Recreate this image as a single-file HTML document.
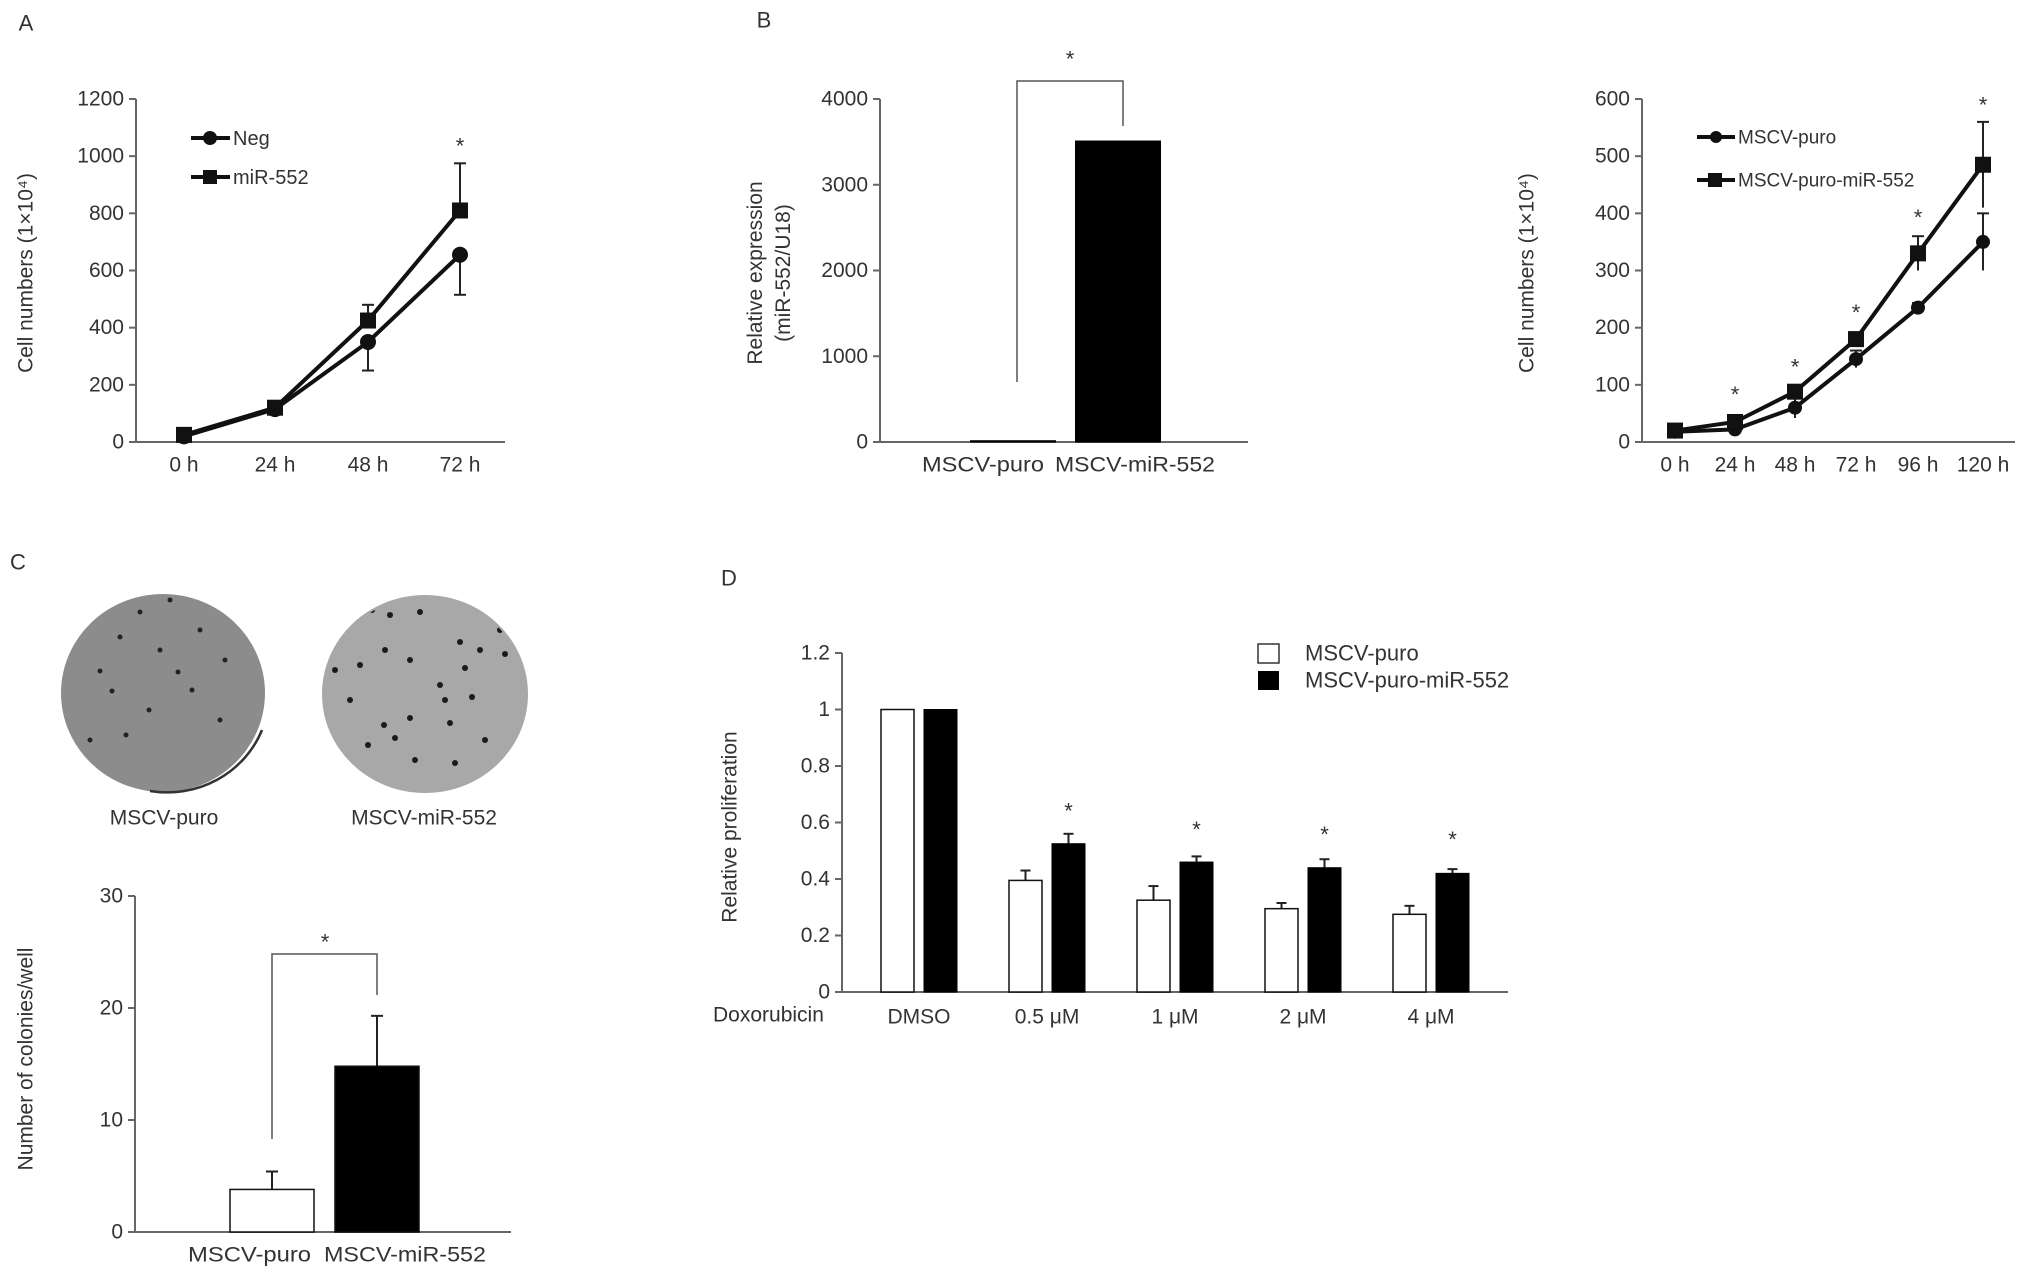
<!DOCTYPE html>
<html><head><meta charset="utf-8"><style>
html,body{margin:0;padding:0;background:#fff;}
svg{display:block;font-family:"Liberation Sans",sans-serif;}
text{fill:#333;}
</style></head><body>
<svg id="fig" width="2031" height="1281" viewBox="0 0 2031 1281" xmlns="http://www.w3.org/2000/svg">
<defs>
<clipPath id="clip1"><ellipse cx="163" cy="693" rx="100" ry="97"/></clipPath>
<clipPath id="clip2"><ellipse cx="425" cy="694" rx="101" ry="97"/></clipPath>
</defs>
<g id="root"></g>
</svg>
<script>
// ---------- Panel A data ----------
const aCats = ["0 h","24 h","48 h","72 h"];
const aNeg = [20,115,350,655];
const aNegErr = [0,0,100,140];
const aMir = [25,120,425,810];
const aMirErr = [0,0,55,165];
const aTicks = [0,200,400,600,800,1000,1200];
const aStars = [null,null,null,1056];
// ---------- Panel B data ----------
const bCats = ["MSCV-puro","MSCV-miR-552"];
const bVals = [15,3510];
const bTicks = [0,1000,2000,3000,4000];
// ---------- Panel right data ----------
const rCats = ["0 h","24 h","48 h","72 h","96 h","120 h"];
const rPuro = [18,22,60,145,235,350];
const rPuroErr = [0,0,18,15,8,50];
const rMir = [20,35,88,180,330,485];
const rMirErr = [0,0,0,0,30,75];
const rTicks = [0,100,200,300,400,500,600];
const rStars = [null,94,142,237,403,600];
// ---------- Panel C data ----------
const cCats = ["MSCV-puro","MSCV-miR-552"];
const cVals = [3.8,14.8];
const cErr = [1.6,4.5];
const cTicks = [0,10,20,30];
// ---------- Panel D data ----------
const dCats = ["DMSO","0.5 μM","1 μM","2 μM","4 μM"];
const dPuro = [1,0.395,0.325,0.295,0.275];
const dPuroErr = [0,0.035,0.05,0.02,0.03];
const dMir = [1,0.525,0.46,0.44,0.42];
const dMirErr = [0,0.035,0.02,0.03,0.015];
const dTicks = ["0","0.2","0.4","0.6","0.8","1","1.2"];
const dStars = [null,0.662,0.597,0.579,0.561];

const NS="http://www.w3.org/2000/svg";
const root=document.getElementById('root');
function el(tag,attrs,parent){const e=document.createElementNS(NS,tag);for(const k in attrs)e.setAttribute(k,attrs[k]);(parent||root).appendChild(e);return e;}
function txt(s,x,y,attrs,parent){const t=el('text',Object.assign({x:x,y:y,'font-size':21,'dominant-baseline':'central'},attrs||{}),parent);t.textContent=s;return t;}
function grp(name){const g=el('g',{});return g;}
const AX='#666';

function yAxis(g,x,y0,y1,ticks,vmax,labels){
  el('line',{x1:x,y1:y0,x2:x,y2:y1,stroke:AX,'stroke-width':2},g);
  ticks.forEach((v,i)=>{const y=y0-(v/vmax)*(y0-y1);
    el('line',{x1:x-7,y1:y,x2:x,y2:y,stroke:AX,'stroke-width':2},g);
    const t=txt(labels?labels[i]:String(v),x-12,y,{'text-anchor':'end'},g);
    });
}
function errBar(g,x,yTop,yEnd,cap){el('line',{x1:x,y1:yTop,x2:x,y2:yEnd,stroke:'#222','stroke-width':2},g);el('line',{x1:x-cap,y1:yEnd,x2:x+cap,y2:yEnd,stroke:'#222','stroke-width':2},g);}
function star(g,x,y){const t=txt('*',x,y+6,{'text-anchor':'middle','font-size':22},g);}

// ---------- Panel A ----------
(function(){
 const g=grp('panel-a-line-chart');
 txt('A',26,23,{'text-anchor':'middle','font-size':22},g);
 const x0=136,y0=442,y1=99,vmax=1200,xEnd=505;
 const xs=[184,275,368,460];
 const Y=v=>y0-v/vmax*(y0-y1);
 yAxis(g,x0,y0,y1,aTicks,vmax);
 el('line',{x1:x0,y1:y0,x2:xEnd,y2:y0,stroke:AX,'stroke-width':2},g);
 aCats.forEach((c,i)=>{const t=txt(c,xs[i],465,{'text-anchor':'middle'},g);});
 const yt=txt('Cell numbers (1×10⁴)',26,273,{'text-anchor':'middle',transform:'rotate(-90 26 273)','font-size':21},g);
 
 [[aNeg,aNegErr,'neg'],[aMir,aMirErr,'mir']].forEach(([d,e,k])=>{
  const p=el('polyline',{points:d.map((v,i)=>xs[i]+','+Y(v)).join(' '),fill:'none',stroke:'#111','stroke-width':4},g);
  
  d.forEach((v,i)=>{ if(e[i]>0){const dir=k==='neg'?1:-1;errBar(g,xs[i],Y(v),Y(v-dir*e[i]),6);}
   let m;
   if(k==='neg') m=el('circle',{cx:xs[i],cy:Y(v),r:8,fill:'#111'},g);
   else m=el('rect',{x:xs[i]-8,y:Y(v)-8,width:16,height:16,fill:'#111'},g);
   });
 });
 aStars.forEach((s,i)=>{if(s!==null)star(g,xs[i],Y(s));});
 const lg=el('g',{},g);
 el('line',{x1:191,y1:138,x2:230,y2:138,stroke:'#111','stroke-width':4},lg);el('circle',{cx:210,cy:138,r:7,fill:'#111'},lg);
 txt('Neg',233,139,{'font-size':20},lg);
 el('line',{x1:191,y1:177,x2:230,y2:177,stroke:'#111','stroke-width':4},lg);el('rect',{x:203,y:170,width:14,height:14,fill:'#111'},lg);
 txt('miR-552',233,178,{'font-size':20},lg);
})();

// ---------- Panel B ----------
(function(){
 const g=grp('panel-b-bar-chart');
 txt('B',764,20,{'text-anchor':'middle','font-size':22},g);
 const x0=880,y0=442,y1=99,vmax=4000,xEnd=1248;
 const Y=v=>y0-v/vmax*(y0-y1);
 yAxis(g,x0,y0,y1,bTicks,vmax);
 el('line',{x1:x0,y1:y0,x2:xEnd,y2:y0,stroke:AX,'stroke-width':2},g);
 const cx=[1013,1118],bw=85;
 const lx=[922,1055],lw=[122,160];
 bVals.forEach((v,i)=>{const r=el('rect',{x:cx[i]-bw/2,y:Y(v),width:bw,height:y0-Y(v),fill:'#000',stroke:'#000','stroke-width':1},g);
  
  const t=txt(bCats[i],lx[i],465,{textLength:lw[i],lengthAdjust:'spacingAndGlyphs'},g);});
 const br=el('polyline',{points:'1017,382 1017,81 1123,81 1123,126',fill:'none',stroke:'#555','stroke-width':1.5},g);
 
 star(g,1070,53);
 const yt=el('text',{'text-anchor':'middle','font-size':21,transform:'rotate(-90 773 273)'},g);
 
 const t1=el('tspan',{x:773,y:262},yt);t1.textContent='Relative expression';
 const t2=el('tspan',{x:773,y:290},yt);t2.textContent='(miR-552/U18)';
})();

// ---------- Right panel ----------
(function(){
 const g=grp('panel-b-growth-line-chart');
 const x0=1642,y0=442,y1=99,vmax=600,xEnd=2015;
 const xs=[1675,1735,1795,1856,1918,1983];
 const Y=v=>y0-v/vmax*(y0-y1);
 yAxis(g,x0,y0,y1,rTicks,vmax);
 el('line',{x1:x0,y1:y0,x2:xEnd,y2:y0,stroke:AX,'stroke-width':2},g);
 rCats.forEach((c,i)=>{const t=txt(c,xs[i],465,{'text-anchor':'middle'},g);});
 const yt=txt('Cell numbers (1×10⁴)',1527,273,{'text-anchor':'middle',transform:'rotate(-90 1527 273)'},g);
 
 [[rPuro,rPuroErr,'puro'],[rMir,rMirErr,'mir']].forEach(([d,e,k])=>{
  const p=el('polyline',{points:d.map((v,i)=>xs[i]+','+Y(v)).join(' '),fill:'none',stroke:'#111','stroke-width':4},g);
  
  d.forEach((v,i)=>{ if(e[i]>0){errBar(g,xs[i],Y(v-e[i]),Y(v+e[i]),6);}
   let m;
   if(k==='puro') m=el('circle',{cx:xs[i],cy:Y(v),r:7,fill:'#111'},g);
   else m=el('rect',{x:xs[i]-8,y:Y(v)-8,width:16,height:16,fill:'#111'},g);
   });
 });
 rStars.forEach((s,i)=>{if(s!==null)star(g,xs[i],Y(s));});
 const lg=el('g',{},g);
 el('line',{x1:1697,y1:137,x2:1735,y2:137,stroke:'#111','stroke-width':4},lg);el('circle',{cx:1716,cy:137,r:6,fill:'#111'},lg);
 txt('MSCV-puro',1738,138,{'font-size':19},lg);
 el('line',{x1:1697,y1:180,x2:1735,y2:180,stroke:'#111','stroke-width':4},lg);el('rect',{x:1708,y:173,width:14,height:14,fill:'#111'},lg);
 txt('MSCV-puro-miR-552',1738,181,{'font-size':19},lg);
})();

// ---------- Panel C ----------
(function(){
 const g=grp('panel-c');
 txt('C',18,562,{'text-anchor':'middle','font-size':22},g);
 const p1=el('ellipse',{cx:163,cy:693,rx:102,ry:99,fill:'#8c8c8c'},g);
 el('path',{d:'M 262 730 A 102 99 0 0 1 150 791',fill:'none',stroke:'#333','stroke-width':2.5},g);
 const p2=el('ellipse',{cx:425,cy:694,rx:103,ry:99,fill:'#a8a8a8'},g);
 const g1=el('g',{'clip-path':'url(#clip1)'},g);
 const dots1=[[140,612],[160,650],[100,671],[120,637],[178,672],[112,691],[149,710],[126,735],[90,740],[192,690],[170,600],[225,660],[220,720],[200,630]];
 dots1.forEach(d=>el('circle',{cx:d[0],cy:d[1],r:2.5,fill:'#222'},g1));
 const g2=el('g',{'clip-path':'url(#clip2)'},g);
 const dots2=[[372,610],[390,615],[385,650],[410,660],[460,642],[465,668],[440,685],[360,665],[384,725],[450,723],[480,650],[505,654],[350,700],[415,760],[455,763],[395,738],[445,700],[335,670],[500,630],[420,612],[472,697],[410,718],[368,745],[485,740]];
 dots2.forEach(d=>el('circle',{cx:d[0],cy:d[1],r:3,fill:'#1a1a1a'},g2));
 txt('MSCV-puro',164,818,{'text-anchor':'middle'},g);
 txt('MSCV-miR-552',424,818,{'text-anchor':'middle'},g);
 const x0=135,y0=1232,y1=896,vmax=30,xEnd=511;
 const Y=v=>y0-v/vmax*(y0-y1);
 yAxis(g,x0,y0,y1,cTicks,vmax);
 el('line',{x1:x0,y1:y0,x2:xEnd,y2:y0,stroke:AX,'stroke-width':2},g);
 const cx=[272,377],bw=84;
 const lx=[188,324],lw=[123,162];
 cVals.forEach((v,i)=>{
  errBar(g,cx[i],Y(v),Y(v+cErr[i]),6);
  const r=el('rect',{x:cx[i]-bw/2,y:Y(v),width:bw,height:y0-Y(v),fill:i?'#000':'#fff',stroke:'#111','stroke-width':1.5},g);
  
  const t=txt(cCats[i],lx[i],1255,{textLength:lw[i],lengthAdjust:'spacingAndGlyphs'},g);});
 const br=el('polyline',{points:'272,1139 272,954 377,954 377,995',fill:'none',stroke:'#555','stroke-width':1.5},g);
 
 star(g,325,936);
 const yt=txt('Number of colonies/well',26,1059,{'text-anchor':'middle',transform:'rotate(-90 26 1059)'},g);
 
})();

// ---------- Panel D ----------
(function(){
 const g=grp('panel-d-bar-chart');
 txt('D',729,578,{'text-anchor':'middle','font-size':22},g);
 const x0=842,y0=992,y1=653,vmax=1.2,xEnd=1508;
 const Y=v=>y0-v/vmax*(y0-y1);
 yAxis(g,x0,y0,y1,dTicks.map(Number),vmax,dTicks);
 el('line',{x1:x0,y1:y0,x2:xEnd,y2:y0,stroke:AX,'stroke-width':2},g);
 const gc=dCats.map((c,i)=>919+i*128),bw=33,gap=10;
 dCats.forEach((c,i)=>{
  const xw=gc[i]-gap/2-bw, xb=gc[i]+gap/2;
  if(dPuroErr[i]>0)errBar(g,xw+bw/2,Y(dPuro[i]),Y(dPuro[i]+dPuroErr[i]),5);
  if(dMirErr[i]>0)errBar(g,xb+bw/2,Y(dMir[i]),Y(dMir[i]+dMirErr[i]),5);
  const r1=el('rect',{x:xw,y:Y(dPuro[i]),width:bw,height:y0-Y(dPuro[i]),fill:'#fff',stroke:'#111','stroke-width':1.5},g);
  
  const r2=el('rect',{x:xb,y:Y(dMir[i]),width:bw,height:y0-Y(dMir[i]),fill:'#000',stroke:'#000','stroke-width':1},g);
  
  if(dStars[i]!==null)star(g,xb+bw/2,Y(dStars[i]));
  const t=txt(c,gc[i],1017,{'text-anchor':'middle'},g);
 });
 const dx=txt('Doxorubicin',713,1015,{},g);
 const yt=txt('Relative proliferation',730,827,{'text-anchor':'middle',transform:'rotate(-90 730 827)'},g);
 
 const lg=el('g',{},g);
 el('rect',{x:1258,y:644,width:21,height:19,fill:'#fff',stroke:'#333','stroke-width':1.5},lg);
 el('rect',{x:1258,y:671,width:21,height:19,fill:'#000'},lg);
 txt('MSCV-puro',1305,653,{'font-size':22},lg);
 txt('MSCV-puro-miR-552',1305,680,{'font-size':22},lg);
})();
</script>
</body></html>
